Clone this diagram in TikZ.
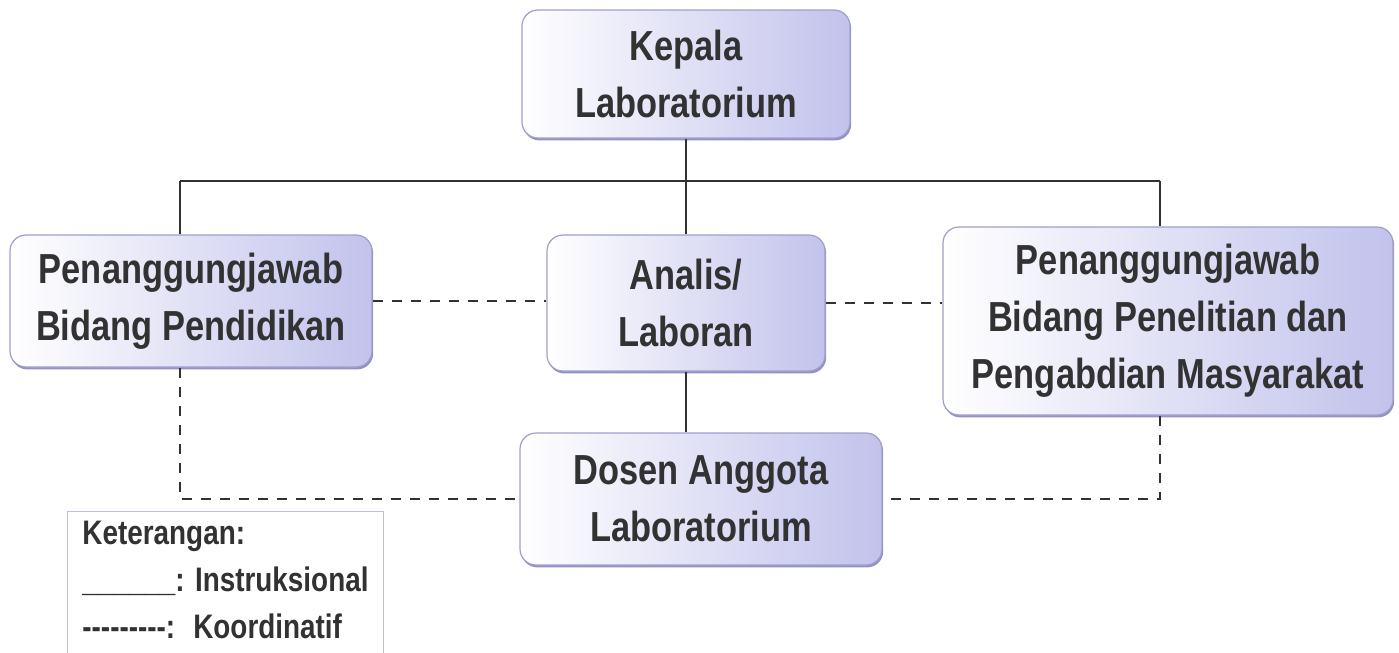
\documentclass[tikz,border=0pt]{standalone}
\usepackage{fontspec}
\setmainfont{Liberation Sans}[FakeStretch=0.82]
\usetikzlibrary{calc}
\usetikzlibrary{positioning}
\usetikzlibrary{shadows}

\definecolor{boxlav}{RGB}{194,194,236}
\definecolor{boxedge}{RGB}{118,118,182}
\definecolor{txtgray}{RGB}{50,50,50}
\definecolor{legendedge}{RGB}{190,190,226}
\newcommand{\hyph}{\mbox{-}}

\tikzset{
    unit/.style={draw=boxedge!70, line width=0.6pt, rounded corners=8pt,
        left color=white, right color=boxlav,
        drop shadow={shadow xshift=0.6pt, shadow yshift=-1.2pt, fill=boxedge, opacity=0.8},
        align=center, text=txtgray, font=\fontsize{21pt}{28.5pt}\selectfont\bfseries},
    instr/.style={draw=txtgray, line width=1.2pt},
    koord/.style={draw=txtgray, line width=1pt, dash pattern=on 5pt off 4.5pt},
}

\begin{document}
\begin{tikzpicture}[x=0.5pt, y=-0.5pt]
        \useasboundingbox (0,0) rectangle (1399,653);

        \node[unit, minimum width=164pt, minimum height=64pt] (kepala) at (686,74) {Kepala\\Laboratorium};
        \node[unit, minimum width=181pt, minimum height=66pt] (pendidikan) at (191,301) {Penanggungjawab\\Bidang Pendidikan};
        \node[unit, minimum width=139pt, minimum height=68pt] (analis) at (686,303) {Analis/\\Laboran};
        \node[unit, minimum width=225pt, minimum height=94pt] (penelitian) at (1168,321) {Penanggungjawab\\Bidang Penelitian dan\\Pengabdian Masyarakat};
        \node[unit, minimum width=181pt, minimum height=66pt] (dosen) at (701,499) {Dosen Anggota\\Laboratorium};

        \node[draw=legendedge, line width=0.5pt, anchor=north west, align=left, inner sep=5pt,
              minimum width=158pt, minimum height=80pt, text=txtgray,
              font=\fontsize{17pt}{23.5pt}\selectfont\bfseries] (legend) at (67,511)
            {Keterangan:\\\_\_\_\_\_\_: Instruksional\\\hyph\hyph\hyph\hyph\hyph\hyph\hyph\hyph\hyph: \ Koordinatif\\[4pt]};

        \coordinate (bus) at (686,181);
        \coordinate (bus left) at (180,181);
        \coordinate (bus right) at (1160,181);

        % garis instruksional
        \draw[instr] (kepala.south) -- (analis.north);
        \draw[instr] (bus left) -- (bus right);
        \draw[instr] (bus left) -- (bus left |- pendidikan.north);
        \draw[instr] (bus right) -- (bus right |- penelitian.north);
        \draw[instr] (analis.south) -- (analis.south |- dosen.north);

        % garis koordinatif
        \draw[koord] (pendidikan.east) -- (pendidikan.east -| analis.west);
        \draw[koord] (analis.east) -- (analis.east -| penelitian.west);
        \draw[koord] (bus left |- pendidikan.south) -- (bus left |- dosen.west) -- (dosen.west);
        \draw[koord] (bus right |- penelitian.south) -- (bus right |- dosen.east) -- (dosen.east);
\end{tikzpicture}
\end{document}
